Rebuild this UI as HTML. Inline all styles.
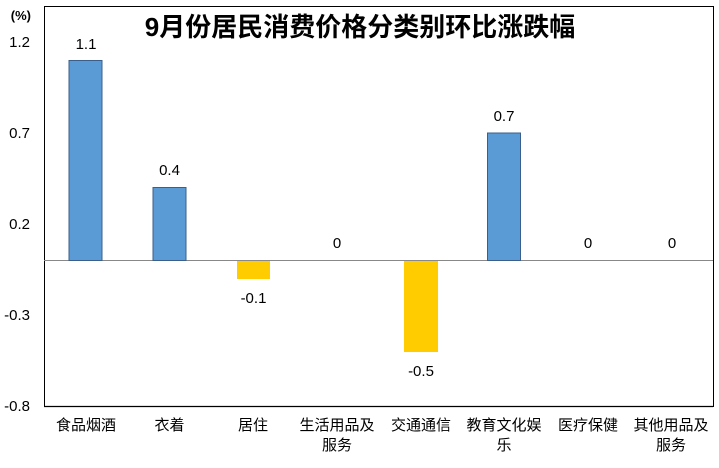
<!DOCTYPE html>
<html><head><meta charset="utf-8"><style>
body{margin:0;background:#fff}
svg text{font-family:"Liberation Sans","Noto Sans CJK SC",sans-serif;fill:#000}
</style></head><body>
<svg width="719" height="463" viewBox="0 0 719 463" xmlns="http://www.w3.org/2000/svg">
<rect x="44.5" y="6.5" width="669" height="400" fill="#fff" stroke="#000" stroke-width="1"/>
<line x1="44" y1="260.5" x2="713" y2="260.5" stroke="#888" stroke-width="1"/>
<line x1="44" y1="406.5" x2="713" y2="406.5" stroke="#000" stroke-width="1.3"/>
<text x="360" y="36" font-size="26" font-weight="bold" text-anchor="middle">9月份居民消费价格分类别环比涨跌幅</text>
<g font-size="15" text-anchor="end">
<text x="31" y="20" font-weight="bold" font-size="13">(%)</text>
<text x="30" y="47">1.2</text>
<text x="30" y="138">0.7</text>
<text x="30" y="229">0.2</text>
<text x="30" y="320">-0.3</text>
<text x="30" y="411">-0.8</text>
</g>
<g stroke="#3a5f8a" stroke-width="1" fill="#5b9bd5">
<rect x="69" y="60.5" width="33" height="200"/>
<rect x="153" y="187.5" width="33" height="73"/>
<rect x="487.5" y="133" width="33" height="127.5"/>
</g>
<g fill="#ffcc00">
<rect x="237" y="261" width="33" height="18"/>
<rect x="404" y="261" width="34" height="91"/>
</g>
<g font-size="15" text-anchor="middle">
<text x="86" y="49">1.1</text>
<text x="169.5" y="175">0.4</text>
<text x="253.5" y="303">-0.1</text>
<text x="337" y="248">0</text>
<text x="421" y="376">-0.5</text>
<text x="504" y="121">0.7</text>
<text x="588" y="248">0</text>
<text x="672" y="248">0</text>
</g>
<g font-size="15" text-anchor="middle">
<text x="86" y="430">食品烟酒</text>
<text x="169.5" y="430">衣着</text>
<text x="253" y="430">居住</text>
<text x="337" y="430">生活用品及</text>
<text x="337" y="450">服务</text>
<text x="421" y="430">交通通信</text>
<text x="504" y="430">教育文化娱</text>
<text x="504" y="450">乐</text>
<text x="588" y="430">医疗保健</text>
<text x="671" y="430">其他用品及</text>
<text x="671" y="450">服务</text>
</g>
</svg>
</body></html>
